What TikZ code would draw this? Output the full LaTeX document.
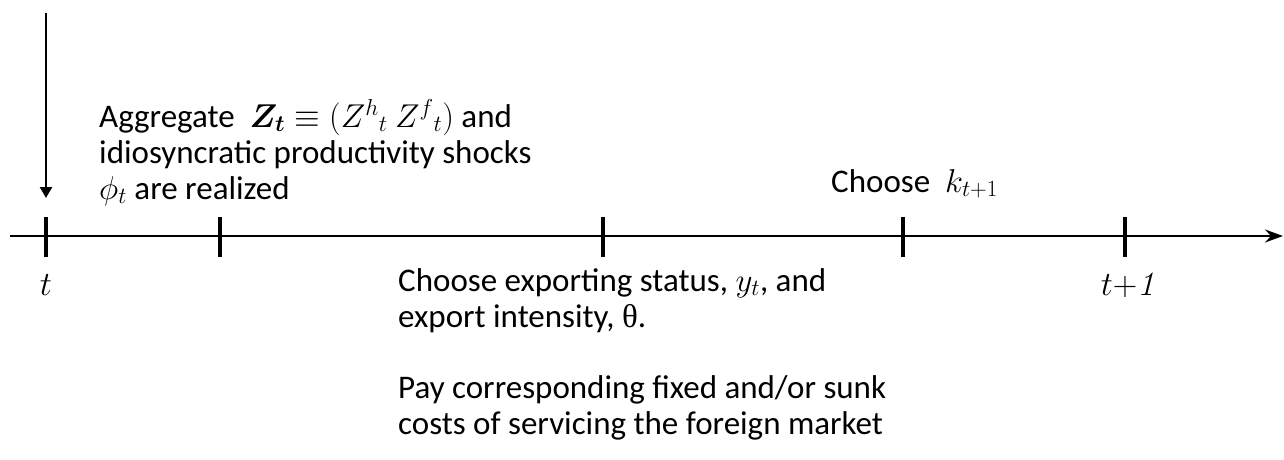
\documentclass[tikz,border=0pt]{standalone}
\usepackage{fix-cm}
\usepackage{amsmath}
\usepackage[no-math]{fontspec}
\setmainfont{Carlito}
\newfontfamily\thetafont{Liberation Serif}
\usetikzlibrary{arrows.meta,calc}
\begin{document}
\begin{tikzpicture}[x=1pt,y=-1pt,
  txt/.style={font=\fontsize{33}{36}\selectfont, align=left, inner sep=0pt, anchor=base west},
  mlab/.style={font=\fontsize{34}{40}\selectfont, inner sep=0pt, anchor=base},
  axisline/.style={line width=2pt},
  tickmark/.style={line width=4pt},
]
\useasboundingbox (0,0) rectangle (1284,460);
% time axis
\coordinate (axL) at (10,236);
\coordinate (axR) at (1283,236);
\draw[axisline,-{Stealth[length=18pt,width=13pt,inset=6pt]}] (axL) -- (axR);
\foreach \n/\x in {a/46,b/220,c/603,d/903,e/1125}{
  \coordinate (tk\n) at (\x,236);
  \draw[tickmark] ($(tk\n)+(0,-19)$) -- ($(tk\n)+(0,21)$);
}
% arrow down onto t
\coordinate (arrtop) at (46,13);
\coordinate (arrtip) at (46,198);
\draw[line width=2.5pt,-{Triangle[length=11pt,width=12pt]}] (arrtop) -- (arrtip);
% labels
\node[mlab] (lt) at (46,295) {$t$};
\node[mlab] (lt1) at (1130,295) {$t{+}\mathit{1}$};
\node[txt] (shock) at (99,199) {Aggregate \ $\boldsymbol{Z_t}\equiv(Z^h{}_t\ Z^f{}_t)$ and\\idiosyncratic productivity shocks\\$\phi_t$ are realized};
\node[txt] (kchoice) at (831,192) {Choose \ $k_{t+1}$};
\node[txt] (export) at (398,327) {Choose exporting status, $y_t$, and\\export intensity, {\thetafont θ}.};
\node[txt] (costs) at (398,434) {Pay corresponding fixed and/or sunk\\costs of servicing the foreign market};
\end{tikzpicture}
\end{document}
